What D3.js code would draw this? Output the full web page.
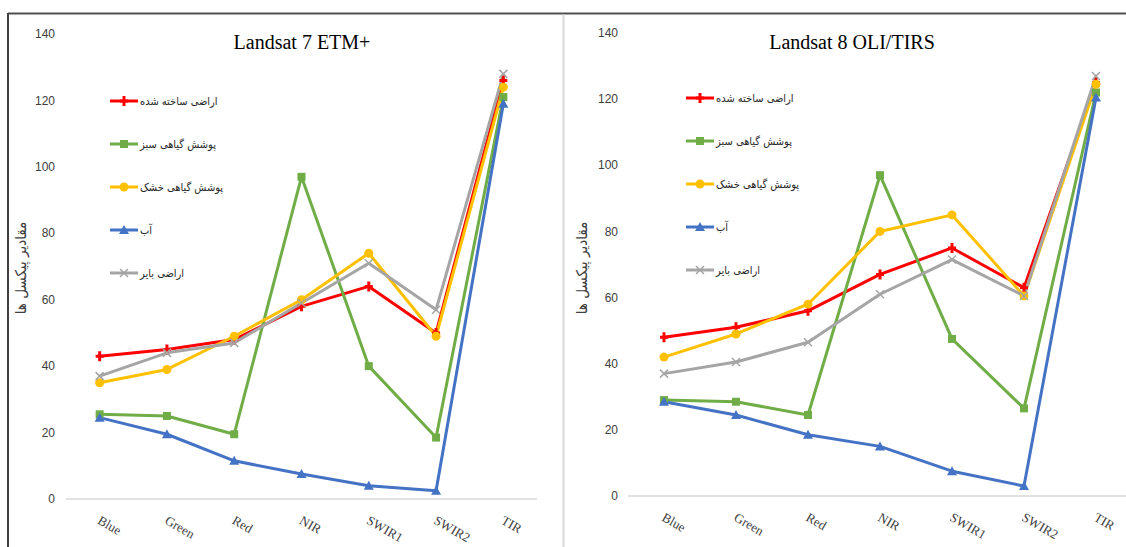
<!DOCTYPE html>
<html>
<head>
<meta charset="utf-8">
<script src="https://cdn.jsdelivr.net/npm/d3@7/dist/d3.min.js"></script>
<style>
  html, body { margin: 0; padding: 0; background: #fff; }
  svg { display: block; }
</style>
</head>
<body>
<svg id="chart" width="1126" height="547"></svg>
<script>
// Spectral bands on the x axis
const bands = ["Blue", "Green", "Red", "NIR", "SWIR1", "SWIR2", "TIR"];
// Land-cover classes (legend order)
const classNames = ["اراضی ساخته شده", "پوشش گیاهی سبز", "پوشش گیاهی خشک", "آب", "اراضی بایر"];
const yTicks = [0, 20, 40, 60, 80, 100, 120, 140];
const yTitle = "مقادیر پیکسل ها";

// Landsat 7 ETM+ mean pixel values
const etmBuilt = [43, 45, 48, 58, 64, 50, 126];
const etmGreenVeg = [25.5, 25, 19.5, 97, 40, 18.5, 121];
const etmDryVeg = [35, 39, 49, 60, 74, 49, 124];
const etmWater = [24.5, 19.5, 11.5, 7.5, 4, 2.5, 119];
const etmBare = [37, 44, 47, 59, 71, 57, 128];

// Landsat 8 OLI/TIRS mean pixel values
const oliBuilt = [48, 51, 56, 67, 75, 63, 125];
const oliGreenVeg = [29, 28.5, 24.5, 97, 47.5, 26.5, 122];
const oliDryVeg = [42, 49, 58, 80, 85, 60.5, 124.5];
const oliWater = [28.5, 24.5, 18.5, 15, 7.5, 3, 120.5];
const oliBare = [37, 40.5, 46.5, 61, 71.5, 60.5, 127];

const colors = ["#FF0000", "#70AD47", "#FFC000", "#4472C4", "#A5A5A5"];
const markers = ["plus", "square", "circle", "triangle", "cross"];

const svg = d3.select("#chart");

// frame lines
svg.append("line").attr("x1", 8).attr("x2", 1126).attr("y1", 13.5).attr("y2", 13.5)
  .attr("stroke", "#505050").attr("stroke-width", 2);
svg.append("line").attr("x1", 8).attr("x2", 8).attr("y1", 13).attr("y2", 547)
  .attr("stroke", "#404040").attr("stroke-width", 2);
svg.append("line").attr("x1", 563.5).attr("x2", 563.5).attr("y1", 14.5).attr("y2", 547)
  .attr("stroke", "#d9d9d9").attr("stroke-width", 2);

function drawMarker(g, type, x, y, color) {
  const s = 4;
  if (type === "plus") {
    g.append("path").attr("d", `M${x},${y - s - 1}V${y + s + 1}M${x - s},${y}H${x + s}`)
      .attr("stroke", color).attr("stroke-width", 3).attr("fill", "none");
  } else if (type === "square") {
    g.append("rect").attr("x", x - 4).attr("y", y - 4).attr("width", 8).attr("height", 8)
      .attr("fill", color);
  } else if (type === "circle") {
    g.append("circle").attr("cx", x).attr("cy", y).attr("r", 4.5).attr("fill", color);
  } else if (type === "triangle") {
    g.append("path").attr("d", `M${x},${y - 5}L${x + 5},${y + 4}L${x - 5},${y + 4}Z`)
      .attr("fill", color);
  } else if (type === "cross") {
    g.append("path").attr("d", `M${x - 4},${y - 4}L${x + 4},${y + 4}M${x - 4},${y + 4}L${x + 4},${y - 4}`)
      .attr("stroke", color).attr("stroke-width", 1.5).attr("fill", "none");
  }
}

function drawPanel(p) {
  const g = svg.append("g");
  const x = d3.scaleBand().domain(bands).range(p.xRange);
  const y = d3.scaleLinear().domain([0, 140]).range(p.yRange);
  const cx = d => x(d) + x.bandwidth() / 2;

  // baseline
  g.append("line").attr("x1", p.xRange[0]).attr("x2", p.xRange[1])
    .attr("y1", y(0)).attr("y2", y(0)).attr("stroke", "#d9d9d9").attr("stroke-width", 1.5);

  // y tick labels
  g.selectAll(".ytick").data(yTicks).join("text")
    .attr("x", p.yLabelX).attr("y", d => y(d)).attr("dy", "0.35em")
    .attr("text-anchor", "end")
    .attr("font-family", "Liberation Sans, Arial, sans-serif").attr("font-size", 12)
    .attr("fill", "#404040").text(d => d);

  // x tick labels, slanted
  g.selectAll(".xtick").data(bands).join("text")
    .attr("transform", d => `translate(${cx(d) - 3},${p.xLabelY}) rotate(30)`)
    .attr("font-family", "Liberation Serif, Times New Roman, serif").attr("font-size", 13)
    .attr("fill", "#404040").text(d => d);

  // title
  g.append("text").attr("x", p.titleX).attr("y", 49).attr("text-anchor", "middle")
    .attr("font-family", "Liberation Serif, Times New Roman, serif").attr("font-size", 20)
    .attr("fill", "#000").text(p.title);

  // y axis title
  g.append("text")
    .attr("transform", `translate(${p.yTitleX},${p.yTitleY}) rotate(-90)`)
    .attr("text-anchor", "middle")
    .attr("font-family", "DejaVu Sans Condensed, DejaVu Sans, sans-serif").attr("font-size", 15)
    .attr("fill", "#404040").text(yTitle);

  // series lines and markers
  const line = d3.line().x((d, i) => cx(bands[i])).y(d => y(d));
  p.series.forEach((vals, k) => {
    g.append("path").datum(vals).attr("d", line)
      .attr("fill", "none").attr("stroke", colors[k]).attr("stroke-width", 3)
      .attr("stroke-linejoin", "round");
  });
  p.series.forEach((vals, k) => {
    vals.forEach((v, i) => drawMarker(g, markers[k], cx(bands[i]), y(v), colors[k]));
  });

  // legend
  classNames.forEach((name, k) => {
    const ly = p.legendY + k * 43;
    const lg = g.append("g");
    lg.append("line").attr("x1", p.legendX).attr("x2", p.legendX + 28)
      .attr("y1", ly).attr("y2", ly).attr("stroke", colors[k]).attr("stroke-width", 3);
    drawMarker(lg, markers[k], p.legendX + 14, ly, colors[k]);
    lg.append("text").attr("x", p.legendX + 30).attr("y", ly).attr("dy", "0.35em")
      .attr("text-anchor", "start")
      .attr("font-family", "DejaVu Sans Condensed, DejaVu Sans, sans-serif").attr("font-size", 11)
      .attr("fill", "#262626").text(name);
  });
}

drawPanel({
  title: "Landsat 7 ETM+", titleX: 302,
  xRange: [66, 537], yRange: [499, 34],
  yLabelX: 55, xLabelY: 523,
  yTitleX: 26, yTitleY: 268,
  legendX: 110, legendY: 101,
  series: [etmBuilt, etmGreenVeg, etmDryVeg, etmWater, etmBare]
});

drawPanel({
  title: "Landsat 8 OLI/TIRS", titleX: 852,
  xRange: [628, 1132], yRange: [496, 33],
  yLabelX: 618, xLabelY: 520,
  yTitleX: 587, yTitleY: 268,
  legendX: 686, legendY: 98,
  series: [oliBuilt, oliGreenVeg, oliDryVeg, oliWater, oliBare]
});
</script>
</body>
</html>
